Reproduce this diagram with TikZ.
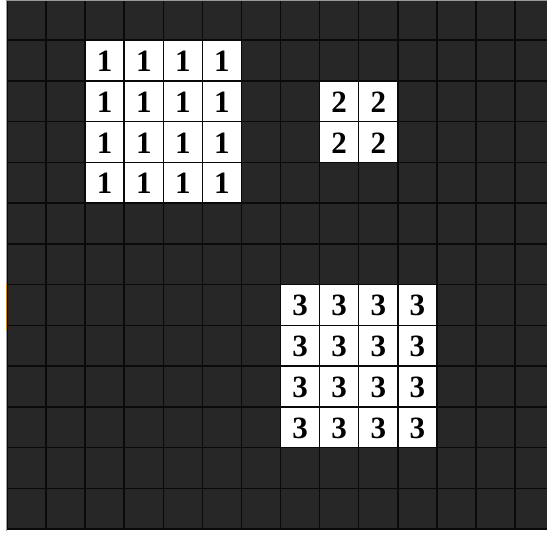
\documentclass[tikz,border=0pt]{standalone}
\usepackage{fontspec}
\setmainfont{Liberation Serif}
\definecolor{cellgray}{HTML}{272727}
\definecolor{gridline}{HTML}{0A0A0A}
\definecolor{edgegray}{HTML}{9A9A9A}
\definecolor{edgeorange}{HTML}{D08A10}
\tikzset{
  gridrule/.style={draw=gridline, line width=1.5pt},
  digit/.style={font=\fontsize{31}{31}\selectfont\bfseries, text=black, inner sep=0pt, anchor=center},
}
\newcommand{\cw}{39.08}
\newcommand{\rh}{40.75}
\begin{document}
\begin{tikzpicture}[x=1pt,y=-1pt]
\useasboundingbox (0,0) rectangle (547,533);
\fill[white] (0,0) rectangle (547,533);
% dark board
\fill[cellgray] (7,-0.75) rectangle (547,529);
% white blocks
\fill[white] ({7+2*\cw},{-0.75+1*\rh}) rectangle ({7+6*\cw},{-0.75+5*\rh});
\fill[white] ({7+8*\cw},{-0.75+2*\rh}) rectangle ({7+10*\cw},{-0.75+4*\rh});
\fill[white] ({7+7*\cw},{-0.75+7*\rh}) rectangle ({7+11*\cw},{-0.75+11*\rh});
% grid
\begin{scope}
\clip (0,0) rectangle (547,533);
\foreach \i in {0,...,14}{
  \draw[gridrule] ({7+\i*\cw},-0.75) -- ({7+\i*\cw},529);
}
\foreach \j in {0,...,13}{
  \draw[gridrule] (7,{-0.75+\j*\rh}) -- (547,{-0.75+\j*\rh});
}
\end{scope}
% screenshot edges
\draw[edgegray, line width=1pt] (6.5,0) -- (6.5,531);
\draw[edgegray, line width=1pt] (7,0.5) -- (547,0.5);
\draw[edgeorange, line width=1.2pt] (6.5,284) -- (6.5,330);
% digits
\foreach \r in {1,...,4}{
  \foreach \c in {2,...,5}{
    \node[digit] (one-\r-\c) at ({7+(\c+0.5)*\cw},{-0.75+(\r+0.5)*\rh+1}) {1};
  }
}
\foreach \r in {2,3}{
  \foreach \c in {8,9}{
    \node[digit] (two-\r-\c) at ({7+(\c+0.5)*\cw},{-0.75+(\r+0.5)*\rh+1}) {2};
  }
}
\foreach \r in {7,...,10}{
  \foreach \c in {7,...,10}{
    \node[digit] (three-\r-\c) at ({7+(\c+0.5)*\cw},{-0.75+(\r+0.5)*\rh+1}) {3};
  }
}
\end{tikzpicture}
\end{document}
